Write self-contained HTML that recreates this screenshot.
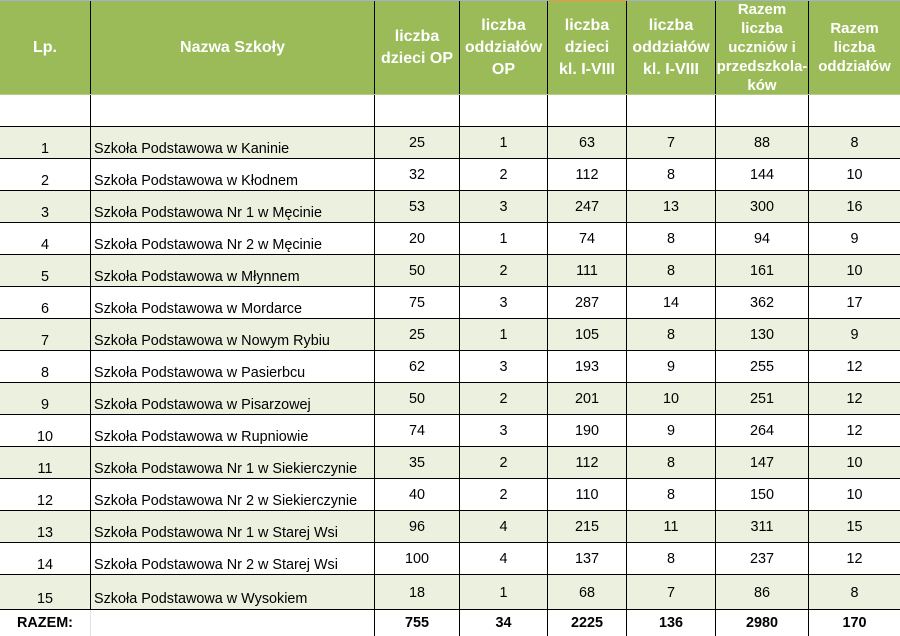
<!DOCTYPE html>
<html><head><meta charset="utf-8"><style>
*{margin:0;padding:0;box-sizing:border-box}
body{width:900px;height:635px;position:relative;background:#fff;font-family:"Liberation Sans",sans-serif;overflow:hidden;color:#000}
.r{position:absolute;left:0;width:900px;display:flex;border-bottom:1px solid #000}
.c{position:relative;border-right:1px solid #000;height:100%}
.c:last-child{border-right:none}
.w0{width:91px}.w1{width:284px}.w2{width:85px}.w3{width:88px}.w4{width:79px}.w5{width:89px}.w6{width:93px}.w7{width:91px}
.hd{top:1px;height:94px;background:#9bbb59;color:#fff;font-weight:bold;font-size:16px;border-bottom:1px solid #b5cc88}
.hd .c{display:flex;align-items:center;justify-content:center;text-align:center;line-height:22px}
.hd .sm{line-height:19px;font-size:15px}
.g{background:#ebf1de}
.t{position:absolute;left:0;right:0;text-align:center;font-size:14.4px;line-height:16px}
.n{position:absolute;left:3px;font-size:14.4px;line-height:16px;white-space:nowrap}
</style></head><body>
<div style="position:absolute;left:0;top:0;width:900px;height:1px;background:#9fb3cf"></div>
<div style="position:absolute;left:549px;top:0;width:78px;height:1px;background:#f2954a"></div>
<div class="r hd">
<div class="c w0">Lp.</div><div class="c w1">Nazwa Szkoły</div><div class="c w2">liczba<br>dzieci OP</div><div class="c w3">liczba<br>oddziałów<br>OP</div><div class="c w4">liczba<br>dzieci<br>kl. I-VIII</div><div class="c w5">liczba<br>oddziałów<br>kl. I-VIII</div><div class="c w6 sm">Razem<br>liczba<br>uczniów i<br>przedszkola-<br>ków</div><div class="c w7 sm">Razem<br>liczba<br>oddziałów</div>
</div>
<div class="r" style="top:95px;height:32px"><div class="c w0"></div><div class="c w1"></div><div class="c w2"></div><div class="c w3"></div><div class="c w4"></div><div class="c w5"></div><div class="c w6"></div><div class="c w7"></div></div>

<div class="r g" style="top:127px;height:32px"><div class="c w0"><div class="t" style="top:14px">1</div></div><div class="c w1"><div class="n" style="top:14px">Szkoła Podstawowa w Kaninie</div></div><div class="c w2"><div class="t" style="top:8px">25</div></div><div class="c w3"><div class="t" style="top:8px">1</div></div><div class="c w4"><div class="t" style="top:8px">63</div></div><div class="c w5"><div class="t" style="top:8px">7</div></div><div class="c w6"><div class="t" style="top:8px">88</div></div><div class="c w7"><div class="t" style="top:8px">8</div></div></div>
<div class="r" style="top:159px;height:32px"><div class="c w0"><div class="t" style="top:14px">2</div></div><div class="c w1"><div class="n" style="top:14px">Szkoła Podstawowa w Kłodnem</div></div><div class="c w2"><div class="t" style="top:8px">32</div></div><div class="c w3"><div class="t" style="top:8px">2</div></div><div class="c w4"><div class="t" style="top:8px">112</div></div><div class="c w5"><div class="t" style="top:8px">8</div></div><div class="c w6"><div class="t" style="top:8px">144</div></div><div class="c w7"><div class="t" style="top:8px">10</div></div></div>
<div class="r g" style="top:191px;height:32px"><div class="c w0"><div class="t" style="top:14px">3</div></div><div class="c w1"><div class="n" style="top:14px">Szkoła Podstawowa Nr 1 w Męcinie</div></div><div class="c w2"><div class="t" style="top:8px">53</div></div><div class="c w3"><div class="t" style="top:8px">3</div></div><div class="c w4"><div class="t" style="top:8px">247</div></div><div class="c w5"><div class="t" style="top:8px">13</div></div><div class="c w6"><div class="t" style="top:8px">300</div></div><div class="c w7"><div class="t" style="top:8px">16</div></div></div>
<div class="r" style="top:223px;height:32px"><div class="c w0"><div class="t" style="top:14px">4</div></div><div class="c w1"><div class="n" style="top:14px">Szkoła Podstawowa Nr 2 w Męcinie</div></div><div class="c w2"><div class="t" style="top:8px">20</div></div><div class="c w3"><div class="t" style="top:8px">1</div></div><div class="c w4"><div class="t" style="top:8px">74</div></div><div class="c w5"><div class="t" style="top:8px">8</div></div><div class="c w6"><div class="t" style="top:8px">94</div></div><div class="c w7"><div class="t" style="top:8px">9</div></div></div>
<div class="r g" style="top:255px;height:32px"><div class="c w0"><div class="t" style="top:14px">5</div></div><div class="c w1"><div class="n" style="top:14px">Szkoła Podstawowa w Młynnem</div></div><div class="c w2"><div class="t" style="top:8px">50</div></div><div class="c w3"><div class="t" style="top:8px">2</div></div><div class="c w4"><div class="t" style="top:8px">111</div></div><div class="c w5"><div class="t" style="top:8px">8</div></div><div class="c w6"><div class="t" style="top:8px">161</div></div><div class="c w7"><div class="t" style="top:8px">10</div></div></div>
<div class="r" style="top:287px;height:32px"><div class="c w0"><div class="t" style="top:14px">6</div></div><div class="c w1"><div class="n" style="top:14px">Szkoła Podstawowa w Mordarce</div></div><div class="c w2"><div class="t" style="top:8px">75</div></div><div class="c w3"><div class="t" style="top:8px">3</div></div><div class="c w4"><div class="t" style="top:8px">287</div></div><div class="c w5"><div class="t" style="top:8px">14</div></div><div class="c w6"><div class="t" style="top:8px">362</div></div><div class="c w7"><div class="t" style="top:8px">17</div></div></div>
<div class="r g" style="top:319px;height:32px"><div class="c w0"><div class="t" style="top:14px">7</div></div><div class="c w1"><div class="n" style="top:14px">Szkoła Podstawowa w Nowym Rybiu</div></div><div class="c w2"><div class="t" style="top:8px">25</div></div><div class="c w3"><div class="t" style="top:8px">1</div></div><div class="c w4"><div class="t" style="top:8px">105</div></div><div class="c w5"><div class="t" style="top:8px">8</div></div><div class="c w6"><div class="t" style="top:8px">130</div></div><div class="c w7"><div class="t" style="top:8px">9</div></div></div>
<div class="r" style="top:351px;height:32px"><div class="c w0"><div class="t" style="top:14px">8</div></div><div class="c w1"><div class="n" style="top:14px">Szkoła Podstawowa w Pasierbcu</div></div><div class="c w2"><div class="t" style="top:8px">62</div></div><div class="c w3"><div class="t" style="top:8px">3</div></div><div class="c w4"><div class="t" style="top:8px">193</div></div><div class="c w5"><div class="t" style="top:8px">9</div></div><div class="c w6"><div class="t" style="top:8px">255</div></div><div class="c w7"><div class="t" style="top:8px">12</div></div></div>
<div class="r g" style="top:383px;height:32px"><div class="c w0"><div class="t" style="top:14px">9</div></div><div class="c w1"><div class="n" style="top:14px">Szkoła Podstawowa w Pisarzowej</div></div><div class="c w2"><div class="t" style="top:8px">50</div></div><div class="c w3"><div class="t" style="top:8px">2</div></div><div class="c w4"><div class="t" style="top:8px">201</div></div><div class="c w5"><div class="t" style="top:8px">10</div></div><div class="c w6"><div class="t" style="top:8px">251</div></div><div class="c w7"><div class="t" style="top:8px">12</div></div></div>
<div class="r" style="top:415px;height:32px"><div class="c w0"><div class="t" style="top:14px">10</div></div><div class="c w1"><div class="n" style="top:14px">Szkoła Podstawowa w Rupniowie</div></div><div class="c w2"><div class="t" style="top:8px">74</div></div><div class="c w3"><div class="t" style="top:8px">3</div></div><div class="c w4"><div class="t" style="top:8px">190</div></div><div class="c w5"><div class="t" style="top:8px">9</div></div><div class="c w6"><div class="t" style="top:8px">264</div></div><div class="c w7"><div class="t" style="top:8px">12</div></div></div>
<div class="r g" style="top:447px;height:32px"><div class="c w0"><div class="t" style="top:14px">11</div></div><div class="c w1"><div class="n" style="top:14px">Szkoła Podstawowa Nr 1 w Siekierczynie</div></div><div class="c w2"><div class="t" style="top:8px">35</div></div><div class="c w3"><div class="t" style="top:8px">2</div></div><div class="c w4"><div class="t" style="top:8px">112</div></div><div class="c w5"><div class="t" style="top:8px">8</div></div><div class="c w6"><div class="t" style="top:8px">147</div></div><div class="c w7"><div class="t" style="top:8px">10</div></div></div>
<div class="r" style="top:479px;height:32px"><div class="c w0"><div class="t" style="top:14px">12</div></div><div class="c w1"><div class="n" style="top:14px">Szkoła Podstawowa Nr 2 w Siekierczynie</div></div><div class="c w2"><div class="t" style="top:8px">40</div></div><div class="c w3"><div class="t" style="top:8px">2</div></div><div class="c w4"><div class="t" style="top:8px">110</div></div><div class="c w5"><div class="t" style="top:8px">8</div></div><div class="c w6"><div class="t" style="top:8px">150</div></div><div class="c w7"><div class="t" style="top:8px">10</div></div></div>
<div class="r g" style="top:511px;height:32px"><div class="c w0"><div class="t" style="top:14px">13</div></div><div class="c w1"><div class="n" style="top:14px">Szkoła Podstawowa Nr 1 w Starej Wsi</div></div><div class="c w2"><div class="t" style="top:8px">96</div></div><div class="c w3"><div class="t" style="top:8px">4</div></div><div class="c w4"><div class="t" style="top:8px">215</div></div><div class="c w5"><div class="t" style="top:8px">11</div></div><div class="c w6"><div class="t" style="top:8px">311</div></div><div class="c w7"><div class="t" style="top:8px">15</div></div></div>
<div class="r" style="top:543px;height:32px"><div class="c w0"><div class="t" style="top:14px">14</div></div><div class="c w1"><div class="n" style="top:14px">Szkoła Podstawowa Nr 2 w Starej Wsi</div></div><div class="c w2"><div class="t" style="top:8px">100</div></div><div class="c w3"><div class="t" style="top:8px">4</div></div><div class="c w4"><div class="t" style="top:8px">137</div></div><div class="c w5"><div class="t" style="top:8px">8</div></div><div class="c w6"><div class="t" style="top:8px">237</div></div><div class="c w7"><div class="t" style="top:8px">12</div></div></div>
<div class="r g" style="top:575px;height:35px"><div class="c w0"><div class="t" style="top:16px">15</div></div><div class="c w1"><div class="n" style="top:16px">Szkoła Podstawowa w Wysokiem</div></div><div class="c w2"><div class="t" style="top:10px">18</div></div><div class="c w3"><div class="t" style="top:10px">1</div></div><div class="c w4"><div class="t" style="top:10px">68</div></div><div class="c w5"><div class="t" style="top:10px">7</div></div><div class="c w6"><div class="t" style="top:10px">86</div></div><div class="c w7"><div class="t" style="top:10px">8</div></div></div>
<div class="r" style="top:610px;height:26px;border-bottom:none;font-weight:bold"><div class="c w0" style="border-right-color:#dde3ea"><div class="t" style="top:5px;font-weight:bold">RAZEM:</div></div><div class="c w1"></div><div class="c w2"><div class="t" style="top:5px">755</div></div><div class="c w3"><div class="t" style="top:5px">34</div></div><div class="c w4"><div class="t" style="top:5px">2225</div></div><div class="c w5"><div class="t" style="top:5px">136</div></div><div class="c w6"><div class="t" style="top:5px">2980</div></div><div class="c w7"><div class="t" style="top:5px">170</div></div></div>
</body></html>
